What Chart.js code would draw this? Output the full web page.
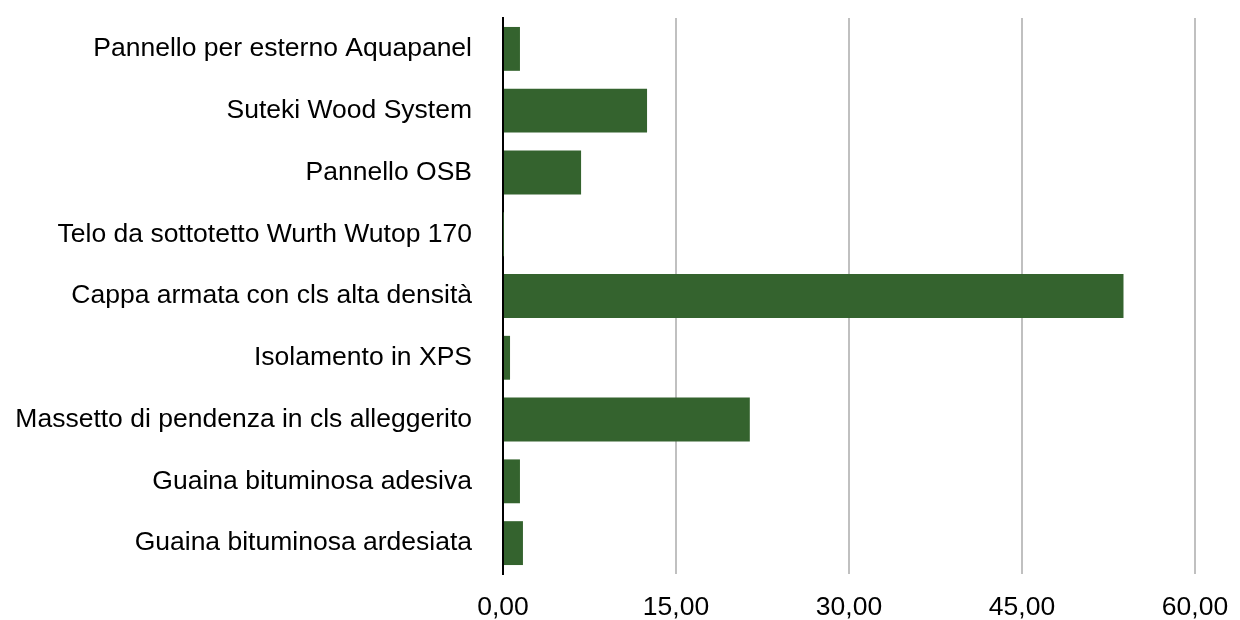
<!DOCTYPE html>
<html>
<head>
<meta charset="utf-8">
<script src="https://cdn.jsdelivr.net/npm/chart.js@4/dist/chart.umd.min.js"></script>
<style>
html,body{margin:0;padding:0;background:#fff;}
#wrap{width:1240px;height:620px;}
</style>
</head>
<body>
<div id="wrap"><canvas id="c" width="1240" height="620"></canvas></div>
<script>
const categories = [
  "Pannello per esterno Aquapanel",
  "Suteki Wood System",
  "Pannello OSB",
  "Telo da sottotetto Wurth Wutop 170",
  "Cappa armata con cls alta densità",
  "Isolamento in XPS",
  "Massetto di pendenza in cls alleggerito",
  "Guaina bituminosa adesiva",
  "Guaina bituminosa ardesiata"
];
const values = [1.47, 12.49, 6.77, 0.02, 53.8, 0.61, 21.4, 1.47, 1.73];
const xTicks = [0, 15, 30, 45, 60];

const FONT = "'Liberation Sans', Arial, Helvetica, sans-serif";

new Chart(document.getElementById('c'), {
  type: 'bar',
  data: {
    labels: categories,
    datasets: [{
      data: values,
      backgroundColor: '#34632E',
      borderWidth: 0,
      barPercentage: 0.71,
      categoryPercentage: 1.0
    }]
  },
  options: {
    indexAxis: 'y',
    responsive: false,
    animation: false,
    devicePixelRatio: 1,
    layout: { padding: { top: 18, right: 45, bottom: 0, left: 0 } },
    plugins: { legend: { display: false }, tooltip: { enabled: false } },
    scales: {
      x: {
        min: 0, max: 60,
        afterBuildTicks: (s) => { s.ticks = xTicks.map(v => ({ value: v })); },
        afterFit: (s) => { s.height = 46; s.paddingLeft = 0; s.paddingRight = 0; },
        border: { display: false },
        grid: {
          color: (ctx) => ctx.tick && ctx.tick.value === 0 ? '#000000' : '#c0c0c0',
          lineWidth: 2,
          drawTicks: false
        },
        ticks: {
          color: '#000',
          padding: 18,
          font: { family: FONT, size: 26.5 },
          callback: (v) => Number(v).toFixed(2).replace('.', ',')
        }
      },
      y: {
        afterFit: (s) => { s.width = 503; s.paddingTop = 0; s.paddingBottom = 0; },
        grid: { display: false, drawTicks: false },
        border: { display: true, color: '#000', width: 2 },
        ticks: {
          color: '#000',
          padding: 31,
          font: { family: FONT, size: 26.5 }
        }
      }
    }
  }
});
</script>
</body>
</html>
